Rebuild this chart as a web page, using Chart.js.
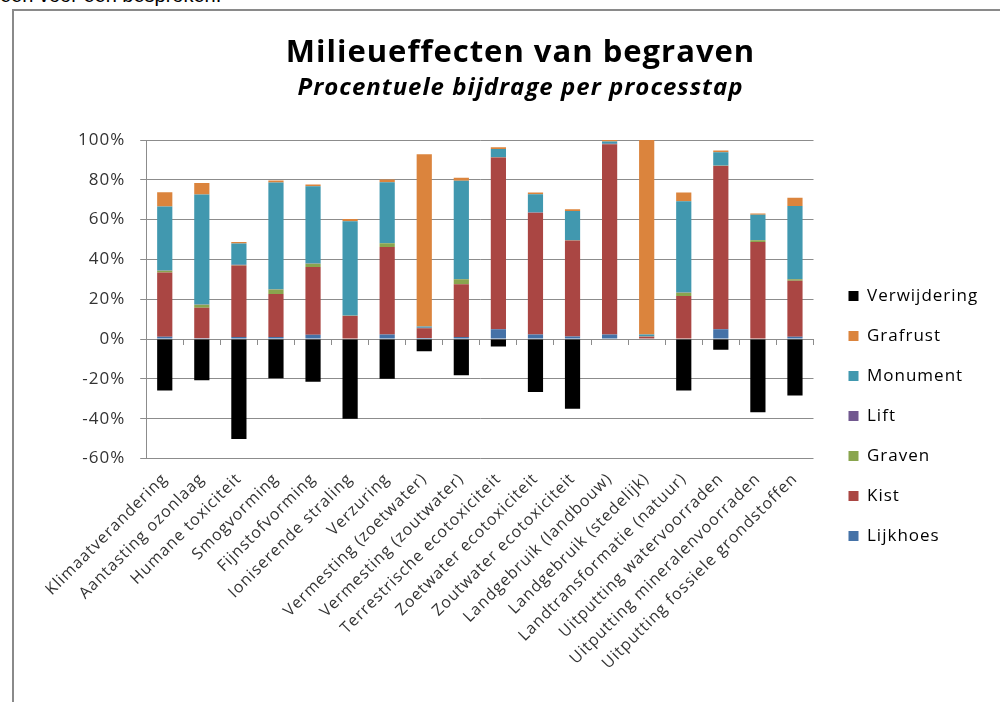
<!DOCTYPE html>
<html>
<head>
<meta charset="utf-8">
<script src="https://cdn.jsdelivr.net/npm/chart.js@4.4.1/dist/chart.umd.min.js"></script>
<style>
  body { margin: 0; background: #fff; width: 1000px; height: 702px; overflow: hidden; position: relative; }
  #above { position: absolute; left: 0; top: -16px; font-family: "Liberation Sans", Arial, sans-serif; font-size: 20px; color: #000; }
  #frame { position: absolute; left: 12px; top: 9px; width: 1000px; height: 700px; border-left: 2px solid #8a8a8a; border-top: 2px solid #8a8a8a; }
  #box { position: absolute; left: 14px; top: 11px; width: 986px; height: 691px; }
</style>
</head>
<body>
<div id="above">een voor een besproken.</div>
<div id="frame"></div>
<div id="box"><canvas id="milieuChart"></canvas></div>
<script>
// impact categories (x axis)
const categories = [
  "Klimaatverandering", "Aantasting ozonlaag", "Humane toxiciteit", "Smogvorming",
  "Fijnstofvorming", "Ioniserende straling", "Verzuring", "Vermesting (zoetwater)",
  "Vermesting (zoutwater)", "Terrestrische ecotoxiciteit", "Zoetwater ecotoxiciteit",
  "Zoutwater ecotoxiciteit", "Landgebruik (landbouw)", "Landgebruik (stedelijk)",
  "Landtransformatie (natuur)", "Uitputting watervoorraden", "Uitputting mineralenvoorraden",
  "Uitputting fossiele grondstoffen"
];

// contribution per process step, in percent
const lijkhoes     = [1.2, 0.4, 1.0, 1.1, 2.2, 0.3, 2.3, 0.5, 1.1, 4.9, 2.3, 1.3, 2.3, 0.3, 0.3, 4.9, 0.3, 1.2];
const kist         = [32.3, 15.4, 36.0, 21.6, 34.0, 11.3, 44.0, 4.9, 26.5, 86.3, 61.1, 48.2, 95.6, 0.9, 21.4, 82.1, 48.5, 28.1];
const graven       = [0.8, 1.5, 0.2, 2.2, 1.7, 0.1, 1.8, 0.2, 2.5, 0.1, 0.1, 0.1, 0.1, 0.1, 1.6, 0.1, 0.8, 0.8];
const lift         = [0.1, 0.1, 0.1, 0.1, 0.1, 0.1, 0.1, 0.1, 0.1, 0.1, 0.1, 0.1, 0.1, 0.1, 0.1, 0.1, 0.1, 0.1];
const monument     = [32.2, 55.2, 10.7, 53.6, 38.8, 47.4, 30.6, 0.6, 49.3, 4.1, 9.1, 14.6, 1.1, 0.9, 45.8, 6.7, 12.7, 36.6];
const grafrust     = [7.1, 5.8, 0.8, 1.0, 0.8, 1.1, 1.3, 86.6, 1.5, 0.8, 0.9, 0.9, 0.8, 97.7, 4.4, 0.8, 0.7, 4.2];
const verwijdering = [-25.8, -20.7, -50.2, -19.7, -21.4, -40.0, -19.9, -6.1, -18.2, -3.7, -26.6, -35.0, 0, 0, -25.8, -5.4, -36.7, -28.3];

const yTicks = [-60, -40, -20, 0, 20, 40, 60, 80, 100];

const FONT = "'Open Sans', sans-serif";
const GRID = "#8c8c8c";

function bar(label, values, color)
{
  return { label: label, data: values, backgroundColor: color, borderWidth: 0,
           categoryPercentage: 1, barPercentage: 0.41, xAxisID: "x" };
}

// the original text is a bit stretched, so widen all letters a little
const spacing = {
  id: "spacing",
  beforeLayout: function (chart) { chart.ctx.letterSpacing = "1px"; },
  beforeDraw: function (chart) { chart.ctx.letterSpacing = "1px"; }
};

new Chart("milieuChart", {
  type: "bar",
  plugins: [spacing],
  data: {
    labels: categories,
    datasets: [
      bar("Lijkhoes", lijkhoes, "#4572a7"),
      bar("Kist", kist, "#aa4643"),
      bar("Graven", graven, "#89a54e"),
      bar("Lift", lift, "#71588f"),
      bar("Monument", monument, "#4198af"),
      bar("Grafrust", grafrust, "#db843d"),
      bar("Verwijdering", verwijdering, "#000000")
    ]
  },
  options: {
    responsive: true,
    maintainAspectRatio: false,
    animation: false,
    layout: { padding: { left: 49, right: 22, top: 0, bottom: 26 } },
    plugins: {
      tooltip: { enabled: false },
      title: {
        display: true, text: "Milieueffecten van begraven", color: "#000",
        font: { family: FONT, size: 31, weight: "bold" }, padding: { top: 24, bottom: 2 }
      },
      subtitle: {
        display: true, text: "Procentuele bijdrage per processtap", color: "#000",
        font: { family: FONT, size: 24, weight: "bold", style: "italic" }, padding: { bottom: 37 }
      },
      legend: {
        position: "right", reverse: true,
        title: { display: true, text: "", font: { size: 10 }, padding: { top: 133, bottom: 0 } },
        labels: { boxWidth: 10, boxHeight: 10, padding: 23, color: "#000", font: { family: FONT, size: 17 } }
      }
    },
    scales: {
      x: {
        stacked: true,
        grid: { display: false },
        border: { display: false },
        ticks: { minRotation: 45, maxRotation: 45, autoSkip: false, color: "#333", font: { family: FONT, size: 16 } }
      },
      xZero: {
        type: "category", axis: "x", position: { y: 0 },
        grid: { drawOnChartArea: false, offset: true, tickLength: 5, color: GRID },
        border: { color: GRID },
        ticks: { display: false }
      },
      y: {
        stacked: true, min: -60, max: 100,
        afterBuildTicks: function (axis) { axis.ticks = yTicks.map(v => ({ value: v })); },
        grid: { color: GRID, tickLength: 6 },
        border: { color: GRID },
        ticks: { padding: 15, color: "#333", font: { family: FONT, size: 17 }, callback: v => v + "%" }
      },
      gap: {
        type: "linear", axis: "y", position: "right",
        grid: { display: false }, border: { display: false }, ticks: { display: false },
        afterFit: function (axis) { axis.width = 12; }
      }
    }
  }
});
</script>
</body>
</html>
